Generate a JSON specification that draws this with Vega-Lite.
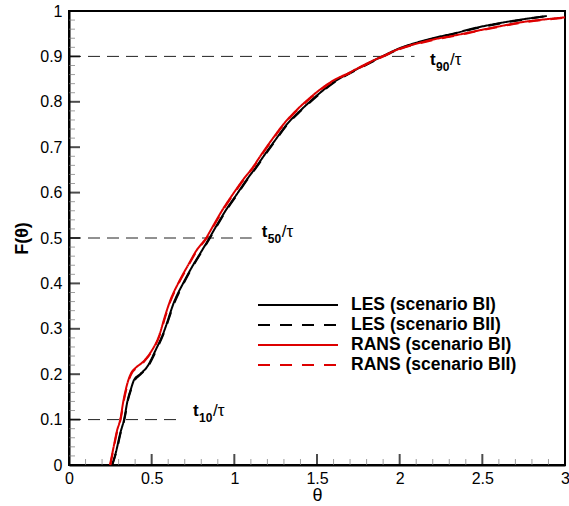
{
  "$schema": "https://vega.github.io/schema/vega-lite/v6.json",
  "width": 496,
  "height": 454,
  "autosize": "none",
  "padding": {"left": 69, "top": 11, "right": 4, "bottom": 41},
  "background": "white",
  "config": {
    "view": {"stroke": "black", "strokeWidth": 2},
    "font": "Liberation Sans"
  },
  "resolve": {"axis": {"x": "independent", "y": "independent"}},
  "datasets": {
    "xMinor": [{"theta":0.1,"F":0},{"theta":0.2,"F":0},{"theta":0.3,"F":0},{"theta":0.4,"F":0},{"theta":0.6,"F":0},{"theta":0.7,"F":0},{"theta":0.8,"F":0},{"theta":0.9,"F":0},{"theta":1.1,"F":0},{"theta":1.2,"F":0},{"theta":1.3,"F":0},{"theta":1.4,"F":0},{"theta":1.6,"F":0},{"theta":1.7,"F":0},{"theta":1.8,"F":0},{"theta":1.9,"F":0},{"theta":2.1,"F":0},{"theta":2.2,"F":0},{"theta":2.3,"F":0},{"theta":2.4,"F":0},{"theta":2.6,"F":0},{"theta":2.7,"F":0},{"theta":2.8,"F":0},{"theta":2.9,"F":0}],
    "xMajor": [{"theta":0,"F":0},{"theta":0.5,"F":0},{"theta":1,"F":0},{"theta":1.5,"F":0},{"theta":2,"F":0},{"theta":2.5,"F":0},{"theta":3,"F":0}],
    "yMinor": [{"theta":0,"F":0.02},{"theta":0,"F":0.04},{"theta":0,"F":0.06},{"theta":0,"F":0.08},{"theta":0,"F":0.12},{"theta":0,"F":0.14},{"theta":0,"F":0.16},{"theta":0,"F":0.18},{"theta":0,"F":0.22},{"theta":0,"F":0.24},{"theta":0,"F":0.26},{"theta":0,"F":0.28},{"theta":0,"F":0.32},{"theta":0,"F":0.34},{"theta":0,"F":0.36},{"theta":0,"F":0.38},{"theta":0,"F":0.42},{"theta":0,"F":0.44},{"theta":0,"F":0.46},{"theta":0,"F":0.48},{"theta":0,"F":0.52},{"theta":0,"F":0.54},{"theta":0,"F":0.56},{"theta":0,"F":0.58},{"theta":0,"F":0.62},{"theta":0,"F":0.64},{"theta":0,"F":0.66},{"theta":0,"F":0.68},{"theta":0,"F":0.72},{"theta":0,"F":0.74},{"theta":0,"F":0.76},{"theta":0,"F":0.78},{"theta":0,"F":0.82},{"theta":0,"F":0.84},{"theta":0,"F":0.86},{"theta":0,"F":0.88},{"theta":0,"F":0.92},{"theta":0,"F":0.94},{"theta":0,"F":0.96},{"theta":0,"F":0.98}],
    "yMajor": [{"theta":0,"F":0},{"theta":0,"F":0.1},{"theta":0,"F":0.2},{"theta":0,"F":0.3},{"theta":0,"F":0.4},{"theta":0,"F":0.5},{"theta":0,"F":0.6},{"theta":0,"F":0.7},{"theta":0,"F":0.8},{"theta":0,"F":0.9},{"theta":0,"F":1}]
  },
  "layer": [
    {
      "data": {"values": [
        {"theta": 0, "theta2": 0.68, "F": 0.1},
        {"theta": 0, "theta2": 1.105, "F": 0.5},
        {"theta": 0, "theta2": 2.09, "F": 0.9}
      ]},
      "mark": {"type": "rule", "strokeDash": [12, 7], "color": "#222", "strokeWidth": 1},
      "encoding": {
        "x": {"field": "theta", "type": "quantitative", "scale": {"domain": [0, 3], "nice": false, "zero": false}, "axis": null},
        "x2": {"field": "theta2"},
        "y": {"field": "F", "type": "quantitative", "scale": {"domain": [0, 1], "nice": false}, "axis": null}
      }
    },
    {
      "data": {"name": "xMinor"},
      "mark": {"type": "tick", "orient": "vertical", "size": 6, "thickness": 1, "color": "#777", "yOffset": -3},
      "encoding": {
        "x": {"field": "theta", "type": "quantitative", "axis": null},
        "y": {"field": "F", "type": "quantitative", "axis": null}
      }
    },
    {
      "data": {"name": "xMajor"},
      "mark": {"type": "tick", "orient": "vertical", "size": 11, "thickness": 2, "color": "black", "yOffset": -5.5},
      "encoding": {
        "x": {"field": "theta", "type": "quantitative", "axis": null},
        "y": {"field": "F", "type": "quantitative", "axis": null}
      }
    },
    {
      "data": {"name": "yMinor"},
      "mark": {"type": "tick", "orient": "horizontal", "size": 6, "thickness": 1, "color": "#777", "xOffset": 3},
      "encoding": {
        "x": {"field": "theta", "type": "quantitative", "axis": null},
        "y": {"field": "F", "type": "quantitative", "axis": null}
      }
    },
    {
      "data": {"name": "yMajor"},
      "mark": {"type": "tick", "orient": "horizontal", "size": 11, "thickness": 2, "color": "black", "xOffset": 5.5},
      "encoding": {
        "x": {"field": "theta", "type": "quantitative", "axis": null},
        "y": {"field": "F", "type": "quantitative", "axis": null}
      }
    },
    {
      "data": {"values": [
        {"series": "LES (scenario BI)", "theta": 0.26, "F": 0},
        {"series": "LES (scenario BI)", "theta": 0.285, "F": 0.03},
        {"series": "LES (scenario BI)", "theta": 0.31, "F": 0.07},
        {"series": "LES (scenario BI)", "theta": 0.333, "F": 0.1},
        {"series": "LES (scenario BI)", "theta": 0.355, "F": 0.143},
        {"series": "LES (scenario BI)", "theta": 0.375, "F": 0.168},
        {"series": "LES (scenario BI)", "theta": 0.393, "F": 0.187},
        {"series": "LES (scenario BI)", "theta": 0.43, "F": 0.2},
        {"series": "LES (scenario BI)", "theta": 0.474, "F": 0.217},
        {"series": "LES (scenario BI)", "theta": 0.52, "F": 0.25},
        {"series": "LES (scenario BI)", "theta": 0.57, "F": 0.29},
        {"series": "LES (scenario BI)", "theta": 0.64, "F": 0.363},
        {"series": "LES (scenario BI)", "theta": 0.69, "F": 0.4},
        {"series": "LES (scenario BI)", "theta": 0.75, "F": 0.44},
        {"series": "LES (scenario BI)", "theta": 0.8, "F": 0.47},
        {"series": "LES (scenario BI)", "theta": 0.849, "F": 0.5},
        {"series": "LES (scenario BI)", "theta": 0.9, "F": 0.532},
        {"series": "LES (scenario BI)", "theta": 0.95, "F": 0.562},
        {"series": "LES (scenario BI)", "theta": 1.018, "F": 0.598},
        {"series": "LES (scenario BI)", "theta": 1.07, "F": 0.626},
        {"series": "LES (scenario BI)", "theta": 1.125, "F": 0.653},
        {"series": "LES (scenario BI)", "theta": 1.196, "F": 0.69},
        {"series": "LES (scenario BI)", "theta": 1.25, "F": 0.717},
        {"series": "LES (scenario BI)", "theta": 1.317, "F": 0.75},
        {"series": "LES (scenario BI)", "theta": 1.4, "F": 0.781},
        {"series": "LES (scenario BI)", "theta": 1.45, "F": 0.798},
        {"series": "LES (scenario BI)", "theta": 1.529, "F": 0.823},
        {"series": "LES (scenario BI)", "theta": 1.6, "F": 0.843},
        {"series": "LES (scenario BI)", "theta": 1.7, "F": 0.864},
        {"series": "LES (scenario BI)", "theta": 1.8, "F": 0.883},
        {"series": "LES (scenario BI)", "theta": 1.9, "F": 0.901},
        {"series": "LES (scenario BI)", "theta": 2.0, "F": 0.918},
        {"series": "LES (scenario BI)", "theta": 2.1, "F": 0.93},
        {"series": "LES (scenario BI)", "theta": 2.2, "F": 0.94},
        {"series": "LES (scenario BI)", "theta": 2.345, "F": 0.952},
        {"series": "LES (scenario BI)", "theta": 2.45, "F": 0.962},
        {"series": "LES (scenario BI)", "theta": 2.6, "F": 0.973},
        {"series": "LES (scenario BI)", "theta": 2.75, "F": 0.982},
        {"series": "LES (scenario BI)", "theta": 2.89, "F": 0.989},

        {"series": "LES (scenario BII)", "theta": 0.262, "F": 0},
        {"series": "LES (scenario BII)", "theta": 0.287, "F": 0.03},
        {"series": "LES (scenario BII)", "theta": 0.312, "F": 0.07},
        {"series": "LES (scenario BII)", "theta": 0.335, "F": 0.1},
        {"series": "LES (scenario BII)", "theta": 0.357, "F": 0.143},
        {"series": "LES (scenario BII)", "theta": 0.377, "F": 0.168},
        {"series": "LES (scenario BII)", "theta": 0.395, "F": 0.185},
        {"series": "LES (scenario BII)", "theta": 0.432, "F": 0.199},
        {"series": "LES (scenario BII)", "theta": 0.476, "F": 0.216},
        {"series": "LES (scenario BII)", "theta": 0.522, "F": 0.248},
        {"series": "LES (scenario BII)", "theta": 0.572, "F": 0.289},
        {"series": "LES (scenario BII)", "theta": 0.642, "F": 0.361},
        {"series": "LES (scenario BII)", "theta": 0.692, "F": 0.399},
        {"series": "LES (scenario BII)", "theta": 0.752, "F": 0.439},
        {"series": "LES (scenario BII)", "theta": 0.802, "F": 0.469},
        {"series": "LES (scenario BII)", "theta": 0.851, "F": 0.499},
        {"series": "LES (scenario BII)", "theta": 0.902, "F": 0.531},
        {"series": "LES (scenario BII)", "theta": 0.952, "F": 0.561},
        {"series": "LES (scenario BII)", "theta": 1.02, "F": 0.597},
        {"series": "LES (scenario BII)", "theta": 1.072, "F": 0.625},
        {"series": "LES (scenario BII)", "theta": 1.127, "F": 0.652},
        {"series": "LES (scenario BII)", "theta": 1.198, "F": 0.689},
        {"series": "LES (scenario BII)", "theta": 1.252, "F": 0.716},
        {"series": "LES (scenario BII)", "theta": 1.319, "F": 0.749},
        {"series": "LES (scenario BII)", "theta": 1.402, "F": 0.78},
        {"series": "LES (scenario BII)", "theta": 1.452, "F": 0.797},
        {"series": "LES (scenario BII)", "theta": 1.531, "F": 0.822},
        {"series": "LES (scenario BII)", "theta": 1.602, "F": 0.842},
        {"series": "LES (scenario BII)", "theta": 1.702, "F": 0.863},
        {"series": "LES (scenario BII)", "theta": 1.802, "F": 0.882},
        {"series": "LES (scenario BII)", "theta": 1.902, "F": 0.9},
        {"series": "LES (scenario BII)", "theta": 2.002, "F": 0.917},
        {"series": "LES (scenario BII)", "theta": 2.1, "F": 0.929},
        {"series": "LES (scenario BII)", "theta": 2.2, "F": 0.939},
        {"series": "LES (scenario BII)", "theta": 2.345, "F": 0.951},
        {"series": "LES (scenario BII)", "theta": 2.45, "F": 0.961},
        {"series": "LES (scenario BII)", "theta": 2.6, "F": 0.972},
        {"series": "LES (scenario BII)", "theta": 2.75, "F": 0.981},
        {"series": "LES (scenario BII)", "theta": 2.87, "F": 0.988},

        {"series": "RANS (scenario BI)", "theta": 0.248, "F": 0},
        {"series": "RANS (scenario BI)", "theta": 0.27, "F": 0.04},
        {"series": "RANS (scenario BI)", "theta": 0.29, "F": 0.075},
        {"series": "RANS (scenario BI)", "theta": 0.31, "F": 0.1},
        {"series": "RANS (scenario BI)", "theta": 0.33, "F": 0.143},
        {"series": "RANS (scenario BI)", "theta": 0.359, "F": 0.187},
        {"series": "RANS (scenario BI)", "theta": 0.38, "F": 0.205},
        {"series": "RANS (scenario BI)", "theta": 0.4, "F": 0.213},
        {"series": "RANS (scenario BI)", "theta": 0.45, "F": 0.228},
        {"series": "RANS (scenario BI)", "theta": 0.49, "F": 0.246},
        {"series": "RANS (scenario BI)", "theta": 0.55, "F": 0.29},
        {"series": "RANS (scenario BI)", "theta": 0.58, "F": 0.327},
        {"series": "RANS (scenario BI)", "theta": 0.61, "F": 0.36},
        {"series": "RANS (scenario BI)", "theta": 0.66, "F": 0.4},
        {"series": "RANS (scenario BI)", "theta": 0.72, "F": 0.44},
        {"series": "RANS (scenario BI)", "theta": 0.77, "F": 0.472},
        {"series": "RANS (scenario BI)", "theta": 0.829, "F": 0.5},
        {"series": "RANS (scenario BI)", "theta": 0.88, "F": 0.532},
        {"series": "RANS (scenario BI)", "theta": 0.93, "F": 0.563},
        {"series": "RANS (scenario BI)", "theta": 0.994, "F": 0.598},
        {"series": "RANS (scenario BI)", "theta": 1.05, "F": 0.627},
        {"series": "RANS (scenario BI)", "theta": 1.11, "F": 0.655},
        {"series": "RANS (scenario BI)", "theta": 1.175, "F": 0.69},
        {"series": "RANS (scenario BI)", "theta": 1.23, "F": 0.718},
        {"series": "RANS (scenario BI)", "theta": 1.296, "F": 0.75},
        {"series": "RANS (scenario BI)", "theta": 1.38, "F": 0.783},
        {"series": "RANS (scenario BI)", "theta": 1.43, "F": 0.8},
        {"series": "RANS (scenario BI)", "theta": 1.508, "F": 0.824},
        {"series": "RANS (scenario BI)", "theta": 1.59, "F": 0.845},
        {"series": "RANS (scenario BI)", "theta": 1.7, "F": 0.865},
        {"series": "RANS (scenario BI)", "theta": 1.8, "F": 0.884},
        {"series": "RANS (scenario BI)", "theta": 1.9, "F": 0.901},
        {"series": "RANS (scenario BI)", "theta": 2.0, "F": 0.917},
        {"series": "RANS (scenario BI)", "theta": 2.1, "F": 0.928},
        {"series": "RANS (scenario BI)", "theta": 2.2, "F": 0.937},
        {"series": "RANS (scenario BI)", "theta": 2.345, "F": 0.947},
        {"series": "RANS (scenario BI)", "theta": 2.45, "F": 0.955},
        {"series": "RANS (scenario BI)", "theta": 2.6, "F": 0.966},
        {"series": "RANS (scenario BI)", "theta": 2.75, "F": 0.976},
        {"series": "RANS (scenario BI)", "theta": 2.89, "F": 0.982},
        {"series": "RANS (scenario BI)", "theta": 3.0, "F": 0.986},

        {"series": "RANS (scenario BII)", "theta": 0.25, "F": 0},
        {"series": "RANS (scenario BII)", "theta": 0.272, "F": 0.04},
        {"series": "RANS (scenario BII)", "theta": 0.292, "F": 0.075},
        {"series": "RANS (scenario BII)", "theta": 0.312, "F": 0.1},
        {"series": "RANS (scenario BII)", "theta": 0.332, "F": 0.142},
        {"series": "RANS (scenario BII)", "theta": 0.361, "F": 0.186},
        {"series": "RANS (scenario BII)", "theta": 0.382, "F": 0.204},
        {"series": "RANS (scenario BII)", "theta": 0.402, "F": 0.212},
        {"series": "RANS (scenario BII)", "theta": 0.452, "F": 0.227},
        {"series": "RANS (scenario BII)", "theta": 0.492, "F": 0.245},
        {"series": "RANS (scenario BII)", "theta": 0.552, "F": 0.289},
        {"series": "RANS (scenario BII)", "theta": 0.582, "F": 0.326},
        {"series": "RANS (scenario BII)", "theta": 0.612, "F": 0.359},
        {"series": "RANS (scenario BII)", "theta": 0.662, "F": 0.399},
        {"series": "RANS (scenario BII)", "theta": 0.722, "F": 0.439},
        {"series": "RANS (scenario BII)", "theta": 0.772, "F": 0.471},
        {"series": "RANS (scenario BII)", "theta": 0.831, "F": 0.499},
        {"series": "RANS (scenario BII)", "theta": 0.882, "F": 0.531},
        {"series": "RANS (scenario BII)", "theta": 0.932, "F": 0.562},
        {"series": "RANS (scenario BII)", "theta": 0.996, "F": 0.597},
        {"series": "RANS (scenario BII)", "theta": 1.052, "F": 0.626},
        {"series": "RANS (scenario BII)", "theta": 1.112, "F": 0.654},
        {"series": "RANS (scenario BII)", "theta": 1.177, "F": 0.689},
        {"series": "RANS (scenario BII)", "theta": 1.232, "F": 0.717},
        {"series": "RANS (scenario BII)", "theta": 1.298, "F": 0.749},
        {"series": "RANS (scenario BII)", "theta": 1.382, "F": 0.782},
        {"series": "RANS (scenario BII)", "theta": 1.432, "F": 0.799},
        {"series": "RANS (scenario BII)", "theta": 1.51, "F": 0.823},
        {"series": "RANS (scenario BII)", "theta": 1.592, "F": 0.844},
        {"series": "RANS (scenario BII)", "theta": 1.702, "F": 0.864},
        {"series": "RANS (scenario BII)", "theta": 1.802, "F": 0.883},
        {"series": "RANS (scenario BII)", "theta": 1.902, "F": 0.9},
        {"series": "RANS (scenario BII)", "theta": 2.002, "F": 0.916},
        {"series": "RANS (scenario BII)", "theta": 2.1, "F": 0.927},
        {"series": "RANS (scenario BII)", "theta": 2.2, "F": 0.936},
        {"series": "RANS (scenario BII)", "theta": 2.345, "F": 0.946},
        {"series": "RANS (scenario BII)", "theta": 2.45, "F": 0.954},
        {"series": "RANS (scenario BII)", "theta": 2.6, "F": 0.965},
        {"series": "RANS (scenario BII)", "theta": 2.75, "F": 0.975},
        {"series": "RANS (scenario BII)", "theta": 2.89, "F": 0.981},
        {"series": "RANS (scenario BII)", "theta": 3.0, "F": 0.985}
      ]},
      "mark": {"type": "line", "strokeWidth": 2, "interpolate": "monotone"},
      "encoding": {
        "x": {
          "field": "theta", "type": "quantitative",
          "axis": {
            "orient": "bottom",
            "title": "θ", "titleFont": "Liberation Sans", "titleFontSize": 18, "titleFontWeight": "normal", "titleColor": "black", "titlePadding": 0,
            "values": [0, 0.5, 1, 1.5, 2, 2.5, 3],
            "format": "~g",
            "ticks": false, "grid": false,
            "labelPadding": 5,
            "domainColor": "black", "domainWidth": 2,
            "labelFont": "Liberation Sans", "labelFontSize": 16, "labelColor": "black",
            "labelFlush": false, "labelOverlap": false
          }
        },
        "y": {
          "field": "F", "type": "quantitative",
          "axis": {
            "orient": "left",
            "title": "F(θ)", "titleFont": "Liberation Sans", "titleFontSize": 18, "titleFontWeight": "bold", "titleColor": "black", "titlePadding": 8,
            "values": [0, 0.1, 0.2, 0.3, 0.4, 0.5, 0.6, 0.7, 0.8, 0.9, 1],
            "format": "~g",
            "ticks": false, "grid": false,
            "labelPadding": 7,
            "domainColor": "black", "domainWidth": 2,
            "labelFont": "Liberation Sans", "labelFontSize": 16, "labelColor": "black",
            "labelFlush": false, "labelOverlap": false
          }
        },
        "color": {
          "field": "series", "type": "nominal",
          "scale": {"domain": ["LES (scenario BI)", "LES (scenario BII)", "RANS (scenario BI)", "RANS (scenario BII)"], "range": ["black", "black", "#dd0000", "#dd0000"]},
          "legend": {
            "title": null, "orient": "none", "legendX": 188, "legendY": 284,
            "padding": 0, "symbolType": "stroke", "symbolSize": 6400, "symbolStrokeWidth": 2,
            "labelFont": "Liberation Sans", "labelFontSize": 17.5, "labelFontWeight": "bold", "labelColor": "black",
            "labelOffset": 12, "rowPadding": 0, "clipHeight": 20, "labelLimit": 400
          }
        },
        "strokeDash": {
          "field": "series", "type": "nominal",
          "scale": {"domain": ["LES (scenario BI)", "LES (scenario BII)", "RANS (scenario BI)", "RANS (scenario BII)"], "range": [[1, 0], [12, 10], [1, 0], [12, 10]]}
        }
      }
    },
    {
      "data": {"name": "labels", "values": [
        {"theta": 0.75, "F": 0.108, "sub": "10"},
        {"theta": 1.166, "F": 0.503, "sub": "50"},
        {"theta": 2.184, "F": 0.881, "sub": "90"}
      ]},
      "mark": {"type": "text", "text": "t", "align": "left", "baseline": "alphabetic", "font": "Liberation Sans", "fontSize": 17, "fontWeight": "bold", "color": "black"},
      "encoding": {
        "x": {"field": "theta", "type": "quantitative", "axis": null},
        "y": {"field": "F", "type": "quantitative", "axis": null}
      }
    },
    {
      "data": {"name": "labels"},
      "mark": {"type": "text", "align": "left", "baseline": "alphabetic", "dx": 6, "dy": 6, "font": "Liberation Sans", "fontSize": 12, "fontWeight": "bold", "color": "black"},
      "encoding": {
        "x": {"field": "theta", "type": "quantitative", "axis": null},
        "y": {"field": "F", "type": "quantitative", "axis": null},
        "text": {"field": "sub"}
      }
    },
    {
      "data": {"name": "labels"},
      "mark": {"type": "text", "text": "/τ", "align": "left", "baseline": "alphabetic", "dx": 20, "font": "Liberation Sans", "fontSize": 17, "fontWeight": "normal", "color": "black"},
      "encoding": {
        "x": {"field": "theta", "type": "quantitative", "axis": null},
        "y": {"field": "F", "type": "quantitative", "axis": null}
      }
    }
  ]
}
